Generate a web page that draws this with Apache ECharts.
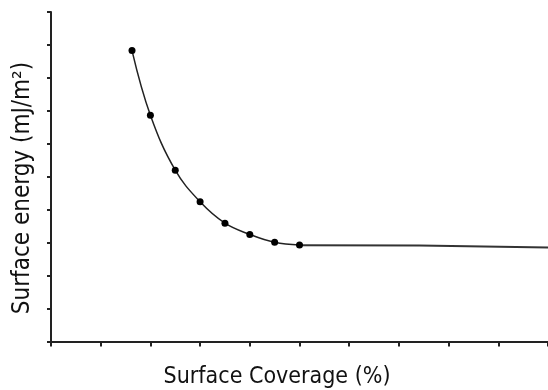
<!DOCTYPE html>
<html>
<head>
<meta charset="utf-8">
<script src="https://cdn.jsdelivr.net/npm/echarts@6/dist/echarts.min.js"></script>
<style>
  html, body { margin: 0; padding: 0; background: #fff; }
  #main { width: 548px; height: 390px; }
</style>
</head>
<body>
<div id="main"></div>
<script>
// measured points (surface coverage, surface energy) in axis units
var coverage = [1.63, 2.0, 2.5, 3.0, 3.5, 4.0, 4.5, 5.0];
var energy = [8.83, 6.87, 5.2, 4.24, 3.59, 3.25, 3.01, 2.93];
// flat plateau after the last point
var plateauX = [5.0, 7.41, 7.41, 10];
var plateauY = [2.92, 2.91, 2.85, 2.85];

var xTitle = 'Surface Coverage (%)';
var yTitle = 'Surface energy (mJ/m\u00B2)';

var chart = echarts.init(document.getElementById('main'));

var axisColor = '#222';
var font = '"DejaVu Sans Condensed", "Liberation Sans Narrow", sans-serif';

chart.setOption({
  animation: false,
  grid: { left: 51, right: -5, top: 12, bottom: 48.5 },
  xAxis: {
    type: 'value', min: 0, max: 10, interval: 1,
    axisLine: { lineStyle: { color: axisColor, width: 2 } },
    axisTick: { length: 5, lineStyle: { color: axisColor, width: 2 } },
    axisLabel: { show: false },
    splitLine: { show: false }
  },
  yAxis: {
    type: 'value', min: 0, max: 10, interval: 1,
    axisLine: { show: true, lineStyle: { color: axisColor, width: 2 } },
    axisTick: { show: true, length: 4, lineStyle: { color: axisColor, width: 2 } },
    axisLabel: { show: false },
    splitLine: { show: false }
  },
  graphic: [
    {
      type: 'text', x: 277, y: 377,
      style: { text: xTitle, font: '23px ' + font, fill: '#111', align: 'center', verticalAlign: 'middle' }
    },
    {
      type: 'text', x: 23, y: 188, rotation: Math.PI / 2,
      style: { text: yTitle, font: '24px ' + font, fill: '#111', align: 'center', verticalAlign: 'middle' }
    }
  ],
  series: [
    {
      type: 'line',
      data: coverage.map(function (x, i) { return [x, energy[i]]; }),
      smooth: 0.4,
      symbol: 'circle', symbolSize: 7,
      itemStyle: { color: '#000' },
      lineStyle: { color: '#222', width: 1.5 },
      z: 3
    },
    {
      type: 'line',
      data: plateauX.map(function (x, i) { return [x, plateauY[i]]; }),
      symbol: 'none',
      lineStyle: { color: '#333', width: 2 }
    }
  ]
});
</script>
</body>
</html>
